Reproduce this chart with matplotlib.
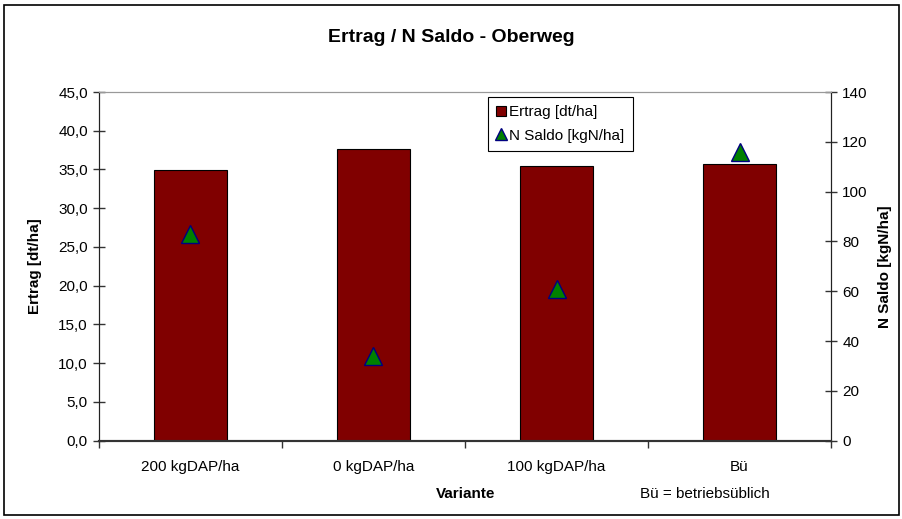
import matplotlib.pyplot as plt
from matplotlib.patches import Rectangle, Patch
from matplotlib.lines import Line2D
from matplotlib.ticker import FuncFormatter, MultipleLocator
import numpy as np

plt.rcParams['font.family'] = ['Liberation Sans', 'DejaVu Sans']

# data
varianten = ['200 kgDAP/ha', '0 kgDAP/ha', '100 kgDAP/ha', 'Bü']
ertrag = [34.9, 37.7, 35.4, 35.7]        # dt/ha, left axis
n_saldo = [83, 34, 61, 116]              # kgN/ha, right axis

fs = 11

fig = plt.figure(figsize=(9.03, 5.19), dpi=100)
ax = fig.add_axes([0.1096, 0.1509, 0.8107, 0.6718])
ax2 = ax.twinx()

x = np.arange(len(varianten))

# bars
ax.bar(x, ertrag, width=0.4, color='#800000', edgecolor='black', linewidth=0.8, zorder=2)
ax.set_xlim(-0.5, len(varianten) - 0.5)
ax.set_ylim(0, 45)
ax.yaxis.set_major_locator(MultipleLocator(5))
ax.yaxis.set_major_formatter(FuncFormatter(lambda v, p: f'{v:.1f}'.replace('.', ',')))

# triangles
ax2.plot(x, n_saldo, linestyle='none', marker='^', markersize=13,
         markerfacecolor='#008000', markeredgecolor='#000080', markeredgewidth=1, zorder=3)
ax2.set_ylim(0, 140)
ax2.yaxis.set_major_locator(MultipleLocator(20))

# x axis: ticks between categories, labels centred
ax.set_xticks(np.arange(-0.5, len(varianten), 1.0))
ax.set_xticklabels([])
ax.set_xticks(x, minor=True)
ax.set_xticklabels(varianten, minor=True)
ax.tick_params(axis='x', which='minor', length=0, pad=14, labelsize=fs)
ax.tick_params(axis='x', which='major', direction='out', length=5, width=1, color='#333333')
ax.tick_params(axis='y', direction='inout', length=8, width=1, labelsize=fs, color='#333333', pad=4)
ax2.tick_params(axis='y', direction='inout', length=8, width=1, labelsize=fs, color='#333333', pad=4)

for a in (ax, ax2):
    a.spines['top'].set_color('#999999')
    a.spines['bottom'].set_color('#333333')
    a.spines['bottom'].set_linewidth(1.5)
    a.spines['left'].set_color('#222222')
    a.spines['right'].set_color('#222222')

ax.set_ylabel('Ertrag [dt/ha]', fontsize=fs, fontweight='bold')
ax2.set_ylabel('N Saldo [kgN/ha]', fontsize=fs, fontweight='bold')
ax.yaxis.label.set_verticalalignment('center')
ax2.yaxis.label.set_verticalalignment('center')
ax.yaxis.set_label_coords((35 - 99) / 732, 0.5)
ax2.yaxis.set_label_coords((885 - 99) / 732, 0.5)

fig.text(466 / 903, 1 - 494 / 519, 'Variante', fontsize=fs, fontweight='bold',
         ha='center', va='center')
fig.text(705 / 903, 1 - 494 / 519, 'Bü = betriebsüblich', fontsize=fs,
         ha='center', va='center')
fig.text(0.5, 1 - 37 / 519, 'Ertrag / N Saldo - Oberweg', fontsize=14,
         fontweight='bold', ha='center', va='center')

# legend
handles = [Patch(facecolor='#800000', edgecolor='black', linewidth=0.8),
           Line2D([], [], linestyle='none', marker='^', markersize=9,
                  markerfacecolor='#008000', markeredgecolor='#000080')]
leg = ax2.legend(handles, ['Ertrag [dt/ha]', 'N Saldo [kgN/ha]'],
                 loc='upper left', bbox_to_anchor=(488 / 903, 1 - 97 / 519),
                 bbox_transform=fig.transFigure, fontsize=fs, fancybox=False,
                 framealpha=1, edgecolor='black', borderaxespad=0,
                 handlelength=0.6, handleheight=0.6, handletextpad=0.25,
                 labelspacing=0.6, borderpad=0.55)
leg.get_frame().set_linewidth(0.8)

# outer chart frame
fig.patches.append(Rectangle((4 / 903, 4 / 519), 1 - 8 / 903, 1 - 9 / 519,
                             transform=fig.transFigure, fill=False,
                             edgecolor='black', linewidth=1.2))

fig.savefig('out.png', dpi=100)
